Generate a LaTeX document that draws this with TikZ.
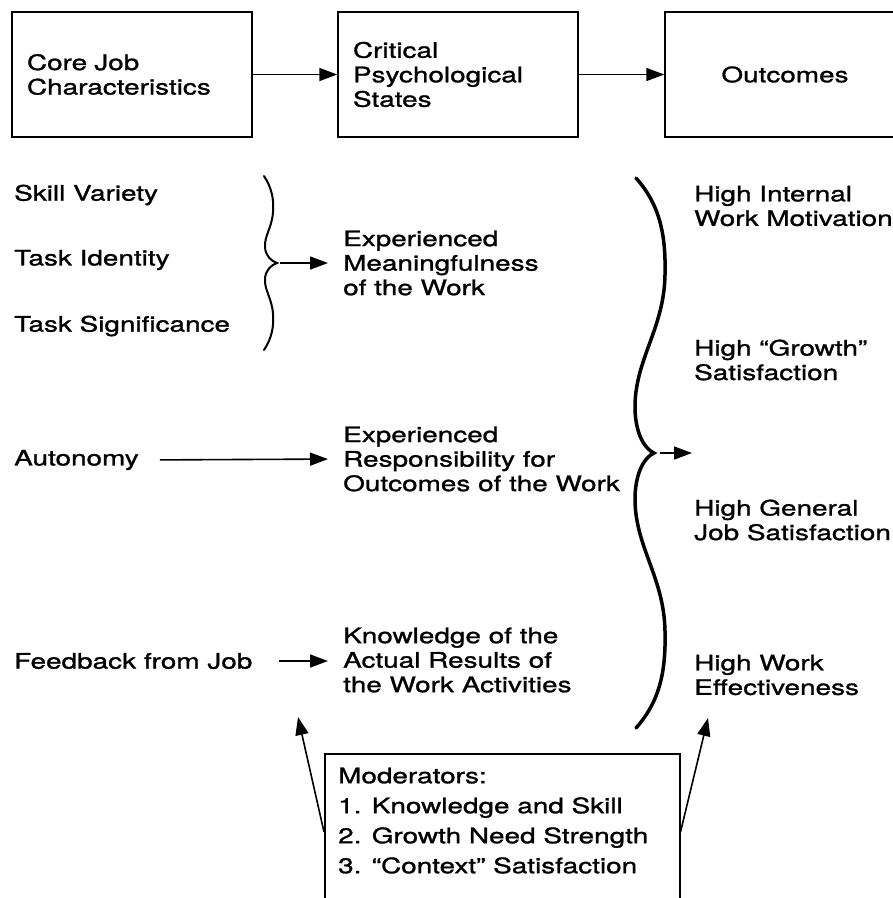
\documentclass[tikz,border=0pt]{standalone}
\usepackage{fontspec}
\setmainfont{TeX Gyre Heros}[FakeStretch=1.31,FakeBold=1.2]
\usetikzlibrary{
    arrows.meta,
}

\newcommand\jcfont{\fontsize{21.3}{24.5}\selectfont}
\newcommand\modfont{\fontsize{21.3}{30}\selectfont}

\begin{document}
\begin{tikzpicture}
  [x=1pt, y=-1pt,
   box/.style={draw, line width=1.5pt, minimum width=240pt, minimum height=125pt,
     inner xsep=15pt, text width=210pt, align=left, font=\jcfont},
   lbl/.style={inner sep=0pt, anchor=west, align=left, font=\jcfont},
   arr/.style={line width=1.6pt, -{Triangle[length=18pt,width=13pt]}},
   curl/.style={line width=#1, line cap=round}]

  \useasboundingbox (0,0) rectangle (893,898);
  \clip (0,0) rectangle (893,898);

  % the three headings
  \node[box] (core) at (132,74.5) {Core Job\\Characteristics};
  \node[box] (crit) at (458,74.5) {Critical\\Psychological\\States};
  \node[box, align=center] (outc) at (785,74.5) {Outcomes};
  \draw[arr] (core) -- (crit);
  \draw[arr] (crit) -- (outc);

  % job characteristics
  \node[lbl] (skill)  at (14,195) {Skill Variety};
  \node[lbl] (ident)  at (14,260) {Task Identity};
  \node[lbl] (signif) at (14,326) {Task Significance};
  \node[lbl] (auto)   at (14,460) {Autonomy};
  \node[lbl] (feed)   at (14,661) {Feedback from Job};

  % psychological states
  \node[lbl] (mean) at (343,263) {Experienced\\Meaningfulness\\of the Work};
  \node[lbl] (resp) at (343,459) {Experienced\\Responsibility for\\Outcomes of the Work};
  \node[lbl] (know) at (343,660) {Knowledge of the\\Actual Results of\\the Work Activities};

  % outcomes
  \node[lbl] (motiv)  at (694,206) {High Internal\\Work Motivation};
  \node[lbl] (grow)   at (694,360) {High “Growth”\\Satisfaction};
  \node[lbl] (gensat) at (694,520) {High General\\Job Satisfaction};
  \node[lbl] (effect) at (694,675) {High Work\\Effectiveness};

  % small brace
  \draw[curl=2pt] (264,176) .. controls (272,188) and (274,200) .. (273,212)
    .. controls (272,228) and (264,236) .. (265,248)
    .. controls (266,256) and (271,261) .. (277,263)
    .. controls (271,265) and (266,270) .. (265,278)
    .. controls (264,290) and (272,298) .. (273,314)
    .. controls (274,326) and (272,338) .. (264,350);
  \coordinate (sbt) at (277,263);
  \draw[arr, shorten <=3pt, shorten >=15pt] (sbt) -- (sbt -| mean.west);
  \draw[arr, shorten <=21pt, shorten >=15pt] (auto.east) -- (resp.west);
  \draw[arr, shorten <=26pt, shorten >=15pt] (feed.east) -- (feed.east -| know.west);

  % big brace
  \draw[curl=3.5pt] (636,178) .. controls (660,205) and (666,235) .. (665,275)
    .. controls (664,330) and (634,360) .. (635,410)
    .. controls (636,435) and (645,449) .. (654,453)
    .. controls (645,457) and (636,471) .. (635,496)
    .. controls (634,546) and (664,576) .. (665,631)
    .. controls (666,671) and (660,701) .. (636,728);
  \coordinate (bbt) at (654,453);
  \coordinate (bbend) at (692,453);
  \draw[arr, shorten <=6pt] (bbt) -- (bbend);

  % moderators
  \node[draw, line width=1.5pt, anchor=north west, minimum width=355pt,
    minimum height=220pt, inner sep=0pt] (mod) at (324,753) {};
  \node[lbl, anchor=north west, font=\modfont] (modtxt) at (338,767.5)
    {Moderators:\\1. Knowledge and Skill\\2. Growth Need Strength\\3. “Context” Satisfaction};
  \coordinate (tipl) at (298,717);
  \coordinate (tipr) at (708,718);
  \draw[arr] ([yshift=-79pt]mod.north west) -- (tipl);
  \draw[arr] ([yshift=-79pt]mod.north east) -- (tipr);
\end{tikzpicture}
\end{document}
